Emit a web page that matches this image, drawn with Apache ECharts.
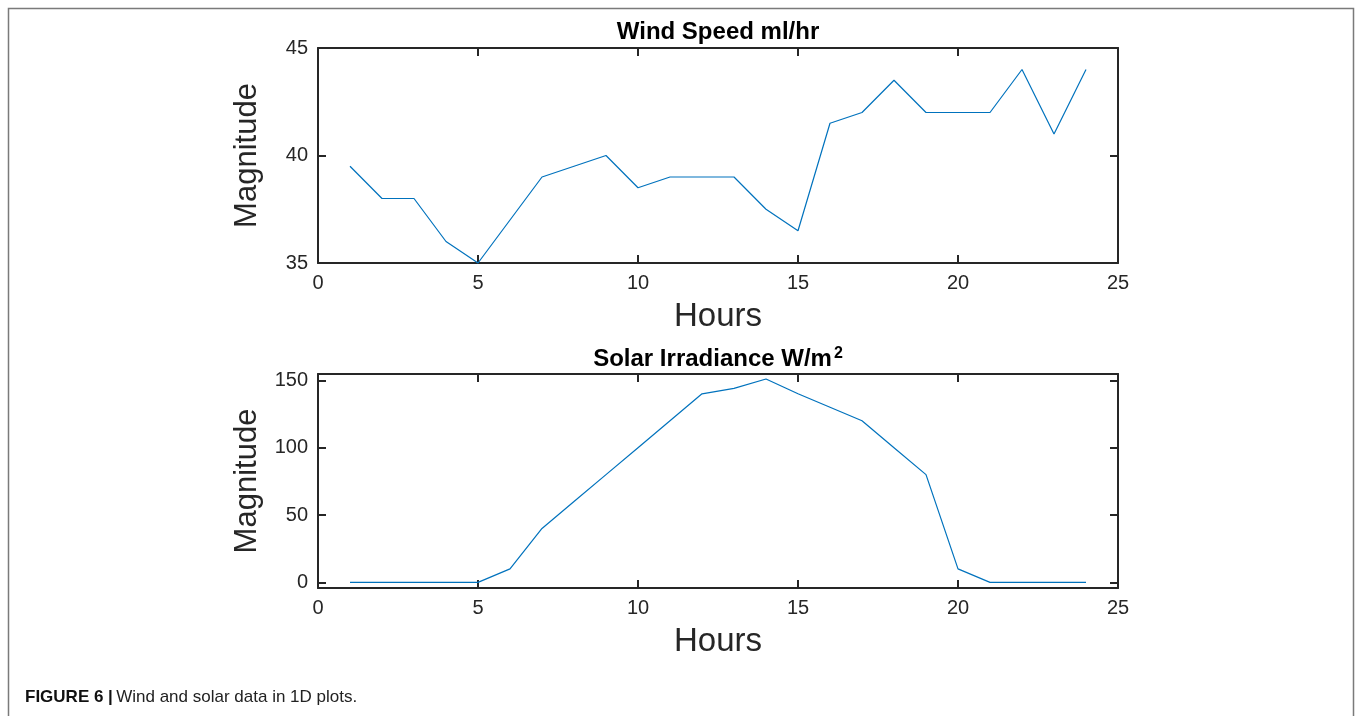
<!DOCTYPE html>
<html>
<head>
<meta charset="utf-8">
<script src="https://cdn.jsdelivr.net/npm/echarts@6/dist/echarts.min.js"></script>
<style>
  html, body { margin: 0; padding: 0; background: #ffffff; }
  #chart { width: 1356px; height: 716px; }
</style>
</head>
<body>
<div id="chart"></div>
<script>
// Hours of the day (x values shared by both panels)
const hours = [1, 2, 3, 4, 5, 6, 7, 8, 9, 10, 11, 12, 13, 14, 15, 16, 17, 18, 19, 20, 21, 22, 23, 24];
// Wind speed per hour
const windSpeed = [39.5, 38, 38, 36, 35, 37, 39, 39.5, 40, 38.5, 39, 39, 39, 37.5, 36.5, 41.5, 42, 43.5, 42, 42, 42, 44, 41, 44];
// Solar irradiance per hour
const solarIrradiance = [0, 0, 0, 0, 0, 10, 40, 60, 80, 100, 120, 140, 144, 151, 140, 130, 120, 100, 80, 10, 0, 0, 0, 0];
// Tick labels
const hourTicks = [0, 5, 10, 15, 20, 25];
const windTicks = [35, 40, 45];
const solarTicks = [0, 50, 100, 150];

const FONT = '"Liberation Sans", Arial, Helvetica, sans-serif';
const INK = '#262626';
const LINE_BLUE = '#0072BD';

function pairs(xs, ys) { return xs.map((x, i) => [x, ys[i]]); }

function xAxisDef(gridIndex, position, withLabels) {
  return {
    type: 'value', gridIndex, position,
    min: hourTicks[0], max: hourTicks[hourTicks.length - 1], interval: 5,
    axisLine: { show: true, onZero: false, lineStyle: { color: INK, width: 2 } },
    axisTick: { show: true, inside: true, length: 8, lineStyle: { color: INK, width: 2 } },
    axisLabel: { show: withLabels, fontSize: 20, color: INK, fontFamily: FONT, margin: 10 },
    splitLine: { show: false },
    name: withLabels ? 'Hours' : '',
    nameLocation: 'middle', nameGap: 37,
    nameTextStyle: { fontSize: 33, color: INK, fontFamily: FONT }
  };
}

function yAxisDef(gridIndex, position, withLabels, min, max, ticks) {
  return {
    type: 'value', gridIndex, position, min, max,
    axisLine: { show: true, onZero: false, lineStyle: { color: INK, width: 2 } },
    axisTick: { show: true, inside: true, length: 8, customValues: ticks, lineStyle: { color: INK, width: 2 } },
    axisLabel: { show: withLabels, customValues: ticks, fontSize: 20, color: INK, fontFamily: FONT, margin: 10 },
    splitLine: { show: false },
    name: withLabels ? 'Magnitude' : '',
    nameLocation: 'middle', nameGap: 55, nameRotate: 90,
    nameTextStyle: { fontSize: 31, color: INK, fontFamily: FONT }
  };
}

const chart = echarts.init(document.getElementById('chart'), null, { renderer: 'canvas' });

chart.setOption({
  animation: false,
  backgroundColor: '#ffffff',
  grid: [
    { left: 318, top: 48, width: 800, height: 215 },
    { left: 318, top: 374, width: 800, height: 214 }
  ],
  xAxis: [
    xAxisDef(0, 'bottom', true),
    xAxisDef(0, 'top', false),
    xAxisDef(1, 'bottom', true),
    xAxisDef(1, 'top', false)
  ],
  yAxis: [
    yAxisDef(0, 'left', true, 35, 45, windTicks),
    yAxisDef(0, 'right', false, 35, 45, windTicks),
    yAxisDef(1, 'left', true, -4.2, 154.7, solarTicks),
    yAxisDef(1, 'right', false, -4.2, 154.7, solarTicks)
  ],
  series: [
    {
      type: 'line', xAxisIndex: 0, yAxisIndex: 0,
      data: pairs(hours, windSpeed),
      symbol: 'none', clip: false,
      lineStyle: { color: LINE_BLUE, width: 1.2 }
    },
    {
      type: 'line', xAxisIndex: 2, yAxisIndex: 2,
      data: pairs(hours, solarIrradiance),
      symbol: 'none', clip: false,
      lineStyle: { color: LINE_BLUE, width: 1.2 }
    }
  ],
  graphic: [
    // figure frame
    {
      type: 'rect', silent: true,
      shape: { x: 8.5, y: 8.5, width: 1345, height: 730 },
      style: { fill: 'none', stroke: '#7a7a7a', lineWidth: 1.5 }
    },
    // panel titles
    {
      type: 'text', x: 718, y: 32,
      style: {
        text: 'Wind Speed ml/hr', fill: '#000', align: 'center', verticalAlign: 'middle',
        font: 'bold 24px ' + FONT
      }
    },
    {
      type: 'text', x: 718, y: 359,
      style: {
        text: '{t|Solar Irradiance W/m}{s|2}', align: 'center', verticalAlign: 'middle',
        rich: {
          t: { fontSize: 24, fontWeight: 'bold', fontFamily: FONT, fill: '#000', color: '#000' },
          s: { fontSize: 16, fontWeight: 'bold', fontFamily: FONT, fill: '#000', color: '#000', verticalAlign: 'top', padding: [0, 0, 10, 2] }
        }
      }
    },
    // caption
    {
      type: 'text', x: 25, y: 697,
      style: {
        text: '{b|FIGURE 6 |} {r|Wind and solar data in 1D plots.}', align: 'left', verticalAlign: 'middle',
        rich: {
          b: { fontSize: 17, fontWeight: 'bold', fontFamily: FONT, fill: '#111', color: '#111' },
          r: { fontSize: 17, fontFamily: FONT, fill: '#222', color: '#222' }
        }
      }
    }
  ]
});
</script>
</body>
</html>
